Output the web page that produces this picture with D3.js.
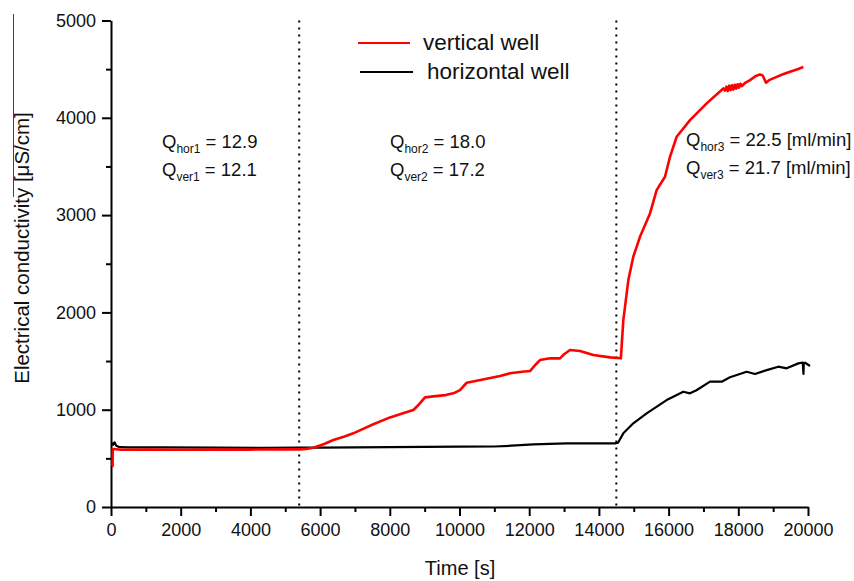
<!DOCTYPE html>
<html>
<head>
<meta charset="utf-8">
<script src="https://cdn.jsdelivr.net/npm/d3@7"></script>
<style>
  body { margin: 0; background: #fff; }
  svg { display: block; }
  text { font-family: 'Liberation Sans', Arial, sans-serif; fill: #111; }
</style>
</head>
<body>
<div id="chart"></div>
<script>
// ── Data ──
// [time s, conductivity µS/cm]
const verticalWell = [
    [30, 414], [45, 420], [50, 596], [300, 588], [1000, 590], [2000, 588], [3000, 590],
    [4000, 590], [5000, 592], [5400, 592], [5600, 597], [5806, 609], [6100, 645],
    [6380, 688], [6700, 725], [6953, 757], [7250, 805], [7527, 850], [8006, 921],
    [8400, 965], [8676, 997], [8800, 1040], [9010, 1127], [9250, 1137], [9600, 1150],
    [9824, 1168], [10014, 1202], [10206, 1277], [10600, 1305], [11163, 1346],
    [11449, 1374], [11800, 1390], [12023, 1397], [12200, 1470], [12310, 1510],
    [12597, 1528], [12884, 1528], [13000, 1570], [13171, 1613], [13458, 1603],
    [13840, 1562], [14318, 1538], [14630, 1528], [14701, 1921], [14845, 2332],
    [14987, 2572], [15179, 2777], [15466, 3017], [15657, 3257], [15896, 3394],
    [16040, 3599], [16231, 3805], [16614, 3976], [17092, 4148], [17570, 4302],
    [17620, 4280], [17660, 4320], [17700, 4275], [17740, 4330], [17780, 4285],
    [17820, 4335], [17860, 4290], [17900, 4340], [17940, 4300], [17980, 4345],
    [18020, 4310], [18060, 4350], [18100, 4325], [18200, 4360],
    [18336, 4387], [18500, 4430], [18623, 4445], [18700, 4435], [18795, 4360],
    [18900, 4390], [19101, 4421], [19300, 4450], [19484, 4473], [19700, 4500],
    [19867, 4522]
];

const horizontalWell = [
    [25, 660], [60, 640], [100, 665], [150, 630], [250, 615], [500, 612], [1500, 612],
    [3000, 610], [4500, 608], [5400, 610], [6000, 610], [7000, 612], [8000, 615],
    [9000, 618], [10000, 620], [11000, 622], [11500, 630], [12119, 644], [13076, 654],
    [14462, 654], [14550, 660], [14700, 757], [14987, 860], [15370, 963], [15944, 1099],
    [16422, 1185], [16614, 1168], [16800, 1200], [17188, 1288], [17523, 1288],
    [17761, 1333], [18240, 1390], [18479, 1367], [18814, 1407], [19149, 1442],
    [19388, 1425], [19722, 1476], [19850, 1485], [19870, 1367], [19880, 1480],
    [19914, 1483], [20057, 1449]
];

const phaseBounds = [5400, 14500];

const xMajorTicks = [0, 2000, 4000, 6000, 8000, 10000, 12000, 14000, 16000, 18000, 20000];
const xMinorTicks = [1000, 3000, 5000, 7000, 9000, 11000, 13000, 15000, 17000, 19000];
const yMajorTicks = [0, 1000, 2000, 3000, 4000, 5000];
const yMinorTicks = [500, 1500, 2500, 3500, 4500];

// flow rate annotations: [sub-label, value]
const phase1Rates = [['hor1', '12.9'], ['ver1', '12.1']];
const phase2Rates = [['hor2', '18.0'], ['ver2', '17.2']];
const phase3Rates = [['hor3', '22.5 [ml/min]'], ['ver3', '21.7 [ml/min]']];

const legendItems = [['vertical well', '#ff0000'], ['horizontal well', '#000000']];

// ── Chart ──
const width = 854, height = 581;
const x0 = 111, x1 = 808, yBottom = 507, yTop = 20.5;

const svg = d3.select('#chart').append('svg')
    .attr('width', width)
    .attr('height', height);

const x = d3.scaleLinear().domain([0, 20000]).range([x0, x1]);
const y = d3.scaleLinear().domain([0, 5000]).range([yBottom, yTop]);

// frame artefact on the left
svg.append('line')
    .attr('x1', 13.5).attr('x2', 13.5).attr('y1', 14).attr('y2', 197)
    .attr('stroke', '#444').attr('stroke-width', 1);

// minor ticks
const xMinor = svg.append('g').attr('transform', `translate(0,${yBottom})`)
    .call(d3.axisBottom(x).tickValues(xMinorTicks).tickSize(5).tickFormat(''));
const yMinor = svg.append('g').attr('transform', `translate(${x0},0)`)
    .call(d3.axisLeft(y).tickValues(yMinorTicks).tickSize(5).tickFormat(''));
[xMinor, yMinor].forEach(g => {
    g.select('.domain').remove();
    g.selectAll('line').attr('stroke', '#000').attr('stroke-width', 2);
});

// major axes
const fmt = d3.format('d');
const xAxis = svg.append('g').attr('transform', `translate(0,${yBottom})`)
    .call(d3.axisBottom(x).tickValues(xMajorTicks).tickFormat(fmt)
        .tickSize(9).tickSizeOuter(0).tickPadding(7));
const yAxis = svg.append('g').attr('transform', `translate(${x0},0)`)
    .call(d3.axisLeft(y).tickValues(yMajorTicks).tickFormat(fmt)
        .tickSize(9).tickSizeOuter(0).tickPadding(6));
[xAxis, yAxis].forEach(g => {
    g.select('.domain').attr('stroke', '#000').attr('stroke-width', 2);
    g.selectAll('line').attr('stroke', '#000').attr('stroke-width', 2);
    g.selectAll('text')
        .attr('font-family', "'Liberation Sans', Arial, sans-serif")
        .attr('font-size', '18px')
        .attr('fill', '#111');
});

// axis titles
svg.append('text')
    .attr('x', 460)
    .attr('y', 575)
    .attr('text-anchor', 'middle')
    .attr('font-size', '20px')
    .text('Time [s]');

svg.append('text')
    .attr('transform', 'rotate(-90)')
    .attr('x', -248)
    .attr('y', 29)
    .attr('text-anchor', 'middle')
    .attr('font-size', '20.5px')
    .text('Electrical conductivity [μS/cm]');

// phase boundaries
svg.append('g').selectAll('line')
    .data(phaseBounds)
    .join('line')
    .attr('x1', d => x(d)).attr('x2', d => x(d))
    .attr('y1', yTop).attr('y2', yBottom)
    .attr('stroke', '#000')
    .attr('stroke-width', 2)
    .attr('stroke-dasharray', '2,5');

// series
const line = d3.line().x(d => x(d[0])).y(d => y(d[1]));

svg.append('path')
    .datum(horizontalWell)
    .attr('d', line)
    .attr('fill', 'none')
    .attr('stroke', '#000')
    .attr('stroke-width', 2.2)
    .attr('stroke-linejoin', 'round');

svg.append('path')
    .datum(verticalWell)
    .attr('d', line)
    .attr('fill', 'none')
    .attr('stroke', '#ff0000')
    .attr('stroke-width', 2.6)
    .attr('stroke-linejoin', 'round');

// legend
const legend = svg.append('g');
legendItems.forEach(([name, color], i) => {
    const ly = 43 + i * 29;
    legend.append('line')
        .attr('x1', 358 + i * 2).attr('x2', 410 + i * 3)
        .attr('y1', ly).attr('y2', ly)
        .attr('stroke', color).attr('stroke-width', 2);
    legend.append('text')
        .attr('x', 423 + i * 4).attr('y', ly + 7)
        .attr('font-size', '22.5px')
        .text(name);
});

// flow rate annotations
function drawRates(rates, xPos, yPos) {
    rates.forEach(([sub, val], i) => {
        const t = svg.append('text')
            .attr('x', xPos)
            .attr('y', yPos + i * 28)
            .attr('font-size', '18.5px');
        t.append('tspan').text('Q');
        t.append('tspan').attr('font-size', '12px').attr('dy', 5).text(sub);
        t.append('tspan').attr('dy', -5).text(' = ' + val);
    });
}
drawRates(phase1Rates, 162, 148);
drawRates(phase2Rates, 390, 148);
drawRates(phase3Rates, 686, 146);
</script>
</body>
</html>
